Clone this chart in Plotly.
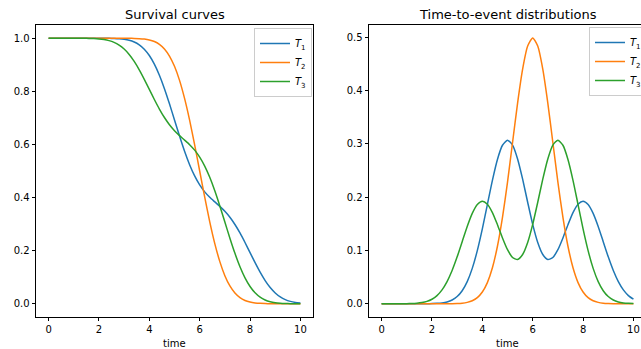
import plotly.graph_objects as go

# time grid (read every 0.2)
time = [round(i * 0.2, 1) for i in range(51)]

# survival curves
surv_T1 = [1.0, 1.0, 1.0, 1.0, 1.0, 1.0, 1.0, 1.0, 1.0, 1.0,
           0.99994, 0.99986, 0.99964, 0.99917, 0.99817, 0.99618, 0.99248, 0.98601, 0.97536, 0.95891,
           0.93503, 0.90242, 0.86062, 0.81025, 0.7532, 0.69247, 0.6317, 0.57453, 0.52386, 0.48143,
           0.44758, 0.42139, 0.40088, 0.38357, 0.3668, 0.34815, 0.32574, 0.29858, 0.26657, 0.23064,
           0.19256, 0.15452, 0.11879, 0.08725, 0.06108, 0.04068, 0.02572, 0.01542, 0.00876, 0.0047,
           0.00239]
surv_T2 = [1.0, 1.0, 1.0, 1.0, 1.0, 1.0, 1.0, 1.0, 1.0, 1.0,
           1.0, 1.0, 1.0, 1.0, 0.99997, 0.99991, 0.99977, 0.99942, 0.99865, 0.99702,
           0.99379, 0.98778, 0.97725, 0.95994, 0.93319, 0.89435, 0.84134, 0.77337, 0.69146, 0.59871,
           0.5, 0.40129, 0.30854, 0.22663, 0.15866, 0.10565, 0.06681, 0.04006, 0.02275, 0.01222,
           0.00621, 0.00298, 0.00135, 0.00058, 0.00023, 0.00009, 0.00003, 0.00001, 0.0, 0.0,
           0.0]
surv_T3 = [1.0, 1.0, 1.0, 1.0, 0.99999, 0.99997, 0.99991, 0.99978, 0.99948, 0.99885,
           0.99761, 0.9953, 0.99124, 0.98458, 0.97428, 0.95932, 0.93892, 0.91275, 0.88121, 0.84548,
           0.80744, 0.76936, 0.73343, 0.70142, 0.67426, 0.65185, 0.6332, 0.61643, 0.59912, 0.57861,
           0.55242, 0.51857, 0.47614, 0.42547, 0.3683, 0.30753, 0.2468, 0.18975, 0.13938, 0.09758,
           0.06497, 0.04109, 0.02464, 0.01399, 0.00752, 0.00382, 0.00183, 0.00083, 0.00036, 0.00014,
           0.00006]

# densities
dens_T1 = [0.0, 0.0, 0.0, 0.0, 0.0, 0.0, 0.0, 0.00001, 0.00004, 0.0001,
           0.00027, 0.00067, 0.00156, 0.00341, 0.00699, 0.01347, 0.0244, 0.04151, 0.06633, 0.09957,
           0.14041, 0.18601, 0.23151, 0.27068, 0.29731, 0.30686, 0.29767, 0.27164, 0.23363, 0.19038,
           0.14885, 0.11485, 0.09231, 0.08303, 0.08673, 0.10137, 0.12344, 0.14834, 0.17099, 0.18676,
           0.19226, 0.18619, 0.16947, 0.14493, 0.11645, 0.0879, 0.06233, 0.04152, 0.02598, 0.01528,
           0.00844]
dens_T2 = [0.0, 0.0, 0.0, 0.0, 0.0, 0.0, 0.0, 0.0, 0.0, 0.0,
           0.0, 0.00001, 0.00002, 0.00006, 0.00017, 0.00044, 0.00109, 0.00254, 0.00554, 0.01136,
           0.02191, 0.03968, 0.06749, 0.10785, 0.1619, 0.22831, 0.30246, 0.37643, 0.44009, 0.48334,
           0.49868, 0.48334, 0.44009, 0.37643, 0.30246, 0.22831, 0.1619, 0.10785, 0.06749, 0.03968,
           0.02191, 0.01136, 0.00554, 0.00254, 0.00109, 0.00044, 0.00017, 0.00006, 0.00002, 0.00001,
           0.0]
dens_T3 = [0.0, 0.0, 0.00001, 0.00002, 0.00007, 0.00017, 0.00042, 0.00098, 0.00213, 0.00437,
           0.00844, 0.01528, 0.02598, 0.04152, 0.06233, 0.0879, 0.11645, 0.14493, 0.16947, 0.18619,
           0.19226, 0.18676, 0.17099, 0.14834, 0.12344, 0.10137, 0.08673, 0.08303, 0.09231, 0.11485,
           0.14885, 0.19038, 0.23363, 0.27164, 0.29767, 0.30686, 0.29731, 0.27068, 0.2315, 0.18601,
           0.14041, 0.09957, 0.06633, 0.04151, 0.0244, 0.01347, 0.00699, 0.00341, 0.00156, 0.00067,
           0.00027]

names = ["<i>T</i><sub>1</sub>", "<i>T</i><sub>2</sub>", "<i>T</i><sub>3</sub>"]
colors = ["#1f77b4", "#ff7f0e", "#2ca02c"]

W, H = 641, 349
def px(x):
    return x / W
def py(y):
    return 1 - y / H

fig = go.Figure()
for s, n, c in zip([surv_T1, surv_T2, surv_T3], names, colors):
    fig.add_trace(go.Scatter(x=time, y=s, name=n, mode="lines",
                             line=dict(color=c, width=1.5, shape="spline", smoothing=0.6),
                             xaxis="x", yaxis="y", legend="legend"))
for s, n, c in zip([dens_T1, dens_T2, dens_T3], names, colors):
    fig.add_trace(go.Scatter(x=time, y=s, name=n, mode="lines",
                             line=dict(color=c, width=1.5, shape="spline", smoothing=0.6),
                             xaxis="x2", yaxis="y2", legend="legend2"))

font = dict(family="DejaVu Sans", size=10, color="black")
ax_common = dict(showline=True, linecolor="black", linewidth=0.8, ticks="outside",
                 ticklen=3.5, tickwidth=0.8, tickcolor="black", showgrid=False,
                 zeroline=False, tickfont=font)
ydom = [py(317), py(25)]

fig.update_layout(
    width=W, height=H,
    margin=dict(l=0, r=0, t=0, b=0, autoexpand=False),
    paper_bgcolor="white", plot_bgcolor="white",
    font=font,
    xaxis=dict(domain=[px(36), px(313)], range=[-0.5, 10.5], tickvals=[0, 2, 4, 6, 8, 10],
               mirror=True, anchor="y", **ax_common),
    yaxis=dict(domain=ydom, range=[-0.05, 1.05], tickvals=[0, 0.2, 0.4, 0.6, 0.8, 1.0],
               tickformat=".1f", mirror=True, anchor="x", **ax_common),
    xaxis2=dict(domain=[px(369), 1.0], range=[-0.5, 10.3], tickvals=[0, 2, 4, 6, 8, 10],
                mirror=True, anchor="y2", **ax_common),
    yaxis2=dict(domain=ydom, range=[-0.0249, 0.5229], tickvals=[0, 0.1, 0.2, 0.3, 0.4, 0.5],
                tickformat=".1f", mirror=False, anchor="x2", **ax_common),
    legend=dict(x=px(312), y=py(28), xanchor="right", yanchor="top",
                bgcolor="rgba(255,255,255,0.8)", bordercolor="#cccccc", borderwidth=1,
                font=font, itemwidth=30),
    legend2=dict(x=px(589), y=py(27), xanchor="left", yanchor="top",
                 bgcolor="rgba(255,255,255,0.8)", bordercolor="#cccccc", borderwidth=1,
                 font=font, itemwidth=30),
    showlegend=True,
    annotations=[
        dict(text="Survival curves", x=px(174.5), y=py(14), xref="paper", yref="paper",
             showarrow=False, xanchor="center", yanchor="middle",
             font=dict(family="DejaVu Sans", size=13, color="black")),
        dict(text="Time-to-event distributions", x=px(507.5), y=py(14), xref="paper", yref="paper",
             showarrow=False, xanchor="center", yanchor="middle",
             font=dict(family="DejaVu Sans", size=13, color="black")),
        dict(text="time", x=px(174.5), y=py(343), xref="paper", yref="paper",
             showarrow=False, xanchor="center", yanchor="middle", font=font),
        dict(text="time", x=px(507.5), y=py(343), xref="paper", yref="paper",
             showarrow=False, xanchor="center", yanchor="middle", font=font),
    ],
)

fig.write_html("out.html", config={"displayModeBar": False},
               post_script="document.body.style.margin='0px';document.body.style.overflow='hidden';")
